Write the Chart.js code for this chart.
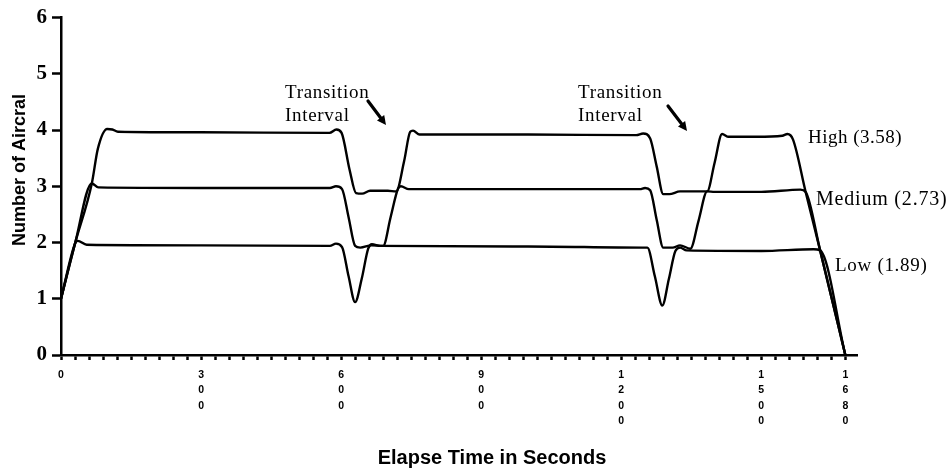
<!DOCTYPE html>
<html>
<head>
<meta charset="utf-8">
<script src="https://cdn.jsdelivr.net/npm/chart.js@4.4.1/dist/chart.umd.min.js"></script>
<style>
  html, body { margin: 0; padding: 0; background: #fff; }
  canvas { display: block; }
</style>
</head>
<body>
<canvas id="chart" width="948" height="471"></canvas>
<script>
// elapse time (s) and number of aircraft
const highT = [0, 30, 66, 79, 99, 110, 122, 300, 575, 590, 601, 618, 632, 645, 662, 700, 718, 735, 748, 754, 768, 1000, 1232, 1247, 1262, 1276, 1290, 1303, 1326, 1384, 1400, 1416, 1430, 1490, 1545, 1556, 1568, 1595, 1626, 1680];
const highY = [1, 1.98, 3.05, 3.67, 4.02, 4.01, 3.97, 3.96, 3.95, 4.01, 3.95, 3.3, 2.88, 2.87, 2.92, 2.92, 2.91, 3.45, 3.97, 3.99, 3.92, 3.92, 3.91, 3.94, 3.85, 3.35, 2.86, 2.86, 2.91, 2.91, 3.42, 3.93, 3.88, 3.88, 3.9, 3.93, 3.83, 2.9, 1.86, 0];

const medT = [0, 30, 66, 80, 300, 576, 589, 602, 616, 630, 641, 665, 690, 706, 722, 728, 745, 1000, 1240, 1251, 1262, 1276, 1290, 1310, 1326, 1348, 1366, 1384, 1400, 1500, 1584, 1595, 1626, 1680];
const medY = [1, 1.98, 3.05, 2.98, 2.97, 2.97, 3.0, 2.95, 2.45, 1.94, 1.91, 1.95, 1.94, 2.45, 2.96, 3.0, 2.95, 2.95, 2.95, 2.97, 2.93, 2.4, 1.91, 1.91, 1.95, 1.89, 2.4, 2.91, 2.9, 2.9, 2.94, 2.9, 1.86, 0];

const lowT = [0, 30, 36, 55, 300, 576, 589, 602, 616, 630, 644, 658, 666, 684, 1000, 1245, 1256, 1272, 1288, 1302, 1316, 1326, 1340, 1500, 1612, 1626, 1680];
const lowY = [1, 1.98, 2.03, 1.96, 1.95, 1.94, 1.98, 1.92, 1.4, 0.94, 1.35, 1.89, 1.97, 1.94, 1.93, 1.91, 1.91, 1.4, 0.88, 1.35, 1.85, 1.91, 1.86, 1.85, 1.88, 1.86, 0];

const xLabelVals = [0, 300, 600, 900, 1200, 1500, 1680];
const seriesLabels = ['High (3.58)', 'Medium (2.73)', 'Low (1.89)'];

const xTickVals = [];
for (let v = 0; v <= 1680; v += 30) xTickVals.push(v);

const toPts = (ts, ys) => ts.map((t, i) => ({x: t, y: ys[i]}));
const line = (label, ts, ys) => ({
    label: label,
    data: toPts(ts, ys),
    borderColor: '#000',
    borderWidth: 2.4,
    pointRadius: 0,
    fill: false,
    cubicInterpolationMode: 'monotone'
});

const serif = '"Liberation Serif", "Times New Roman", serif';
const sans = '"Liberation Sans", Arial, sans-serif';

function arrow(ctx, x1, y1, x2, y2) {
    const a = Math.atan2(y2 - y1, x2 - x1);
    const hl = 9, hw = 4.5;
    const bx = x2 - hl * Math.cos(a), by = y2 - hl * Math.sin(a);
    ctx.beginPath();
    ctx.lineWidth = 3.2;
    ctx.lineCap = 'round';
    ctx.moveTo(x1, y1);
    ctx.lineTo(bx, by);
    ctx.stroke();
    ctx.beginPath();
    ctx.moveTo(x2, y2);
    ctx.lineTo(bx + hw * Math.sin(a), by - hw * Math.cos(a));
    ctx.lineTo(bx - hw * Math.sin(a), by + hw * Math.cos(a));
    ctx.closePath();
    ctx.fill();
}

const textPlugin = {
    id: 'texts',
    afterDraw(chart) {
        const ctx = chart.ctx;
        ctx.save();
        ctx.fillStyle = '#000';
        ctx.strokeStyle = '#000';

        // axis titles
        ctx.font = 'bold 18px ' + sans;
        ctx.textAlign = 'center';
        ctx.textBaseline = 'middle';
        ctx.save();
        ctx.translate(20, 170);
        ctx.rotate(-Math.PI / 2);
        ctx.fillText('Number of Aircral', 0, 0);
        ctx.restore();
        ctx.font = 'bold 20px ' + sans;
        ctx.fillText('Elapse Time in Seconds', 492, 458);

        // transition notes and series labels
        ctx.font = '19px ' + serif;
        ctx.textAlign = 'left';
        ctx.letterSpacing = '0.7px';
        ctx.fillText('Transition', 285, 93);
        ctx.fillText('Interval', 285, 116);
        ctx.fillText('Transition', 578, 93);
        ctx.fillText('Interval', 578, 116);
        ctx.letterSpacing = '0.5px';
        ctx.fillText(seriesLabels[0], 808, 138);
        ctx.font = '20px ' + serif;
        ctx.letterSpacing = '0.8px';
        ctx.fillText(seriesLabels[1], 816, 200);
        ctx.font = '19px ' + serif;
        ctx.letterSpacing = '0.7px';
        ctx.fillText(seriesLabels[2], 835, 266);
        ctx.letterSpacing = '0px';

        arrow(ctx, 368, 101, 386, 125);
        arrow(ctx, 668, 106, 687, 131);
        ctx.restore();
    }
};

new Chart(document.getElementById('chart'), {
    type: 'line',
    data: {
        datasets: [
            line(seriesLabels[0], highT, highY),
            line(seriesLabels[1], medT, medY),
            line(seriesLabels[2], lowT, lowY)
        ]
    },
    options: {
        responsive: false,
        animation: false,
        layout: { padding: { top: 15, right: 91, left: 0, bottom: 0 } },
        plugins: { legend: {display: false}, tooltip: {enabled: false} },
        scales: {
            x: {
                type: 'linear',
                min: 0,
                max: 1705,
                afterBuildTicks: (axis) => { axis.ticks = xTickVals.map(v => ({value: v})); },
                afterFit: (scale) => { scale.height = 116; },
                grid: { drawOnChartArea: false, drawTicks: true, tickLength: 5, tickWidth: 2.5, tickColor: '#000' },
                border: { color: '#000', width: 2.5 },
                ticks: {
                    autoSkip: false,
                    maxRotation: 0,
                    minRotation: 0,
                    padding: 7,
                    color: '#000',
                    font: { family: sans, size: 10.5, weight: 'bold', lineHeight: '15.5px' },
                    callback: (v) => xLabelVals.includes(v) ? String(v).split('') : ''
                }
            },
            y: {
                min: 0,
                max: 6,
                afterFit: (scale) => { scale.width = 61; },
                grid: { drawOnChartArea: false, drawTicks: true, tickLength: 9, tickWidth: 2.5, tickColor: '#000' },
                border: { color: '#000', width: 2.5 },
                ticks: {
                    stepSize: 1,
                    padding: 5,
                    color: '#000',
                    font: { family: serif, size: 21, weight: 'bold' }
                }
            }
        }
    },
    plugins: [textPlugin]
});
</script>
</body>
</html>
